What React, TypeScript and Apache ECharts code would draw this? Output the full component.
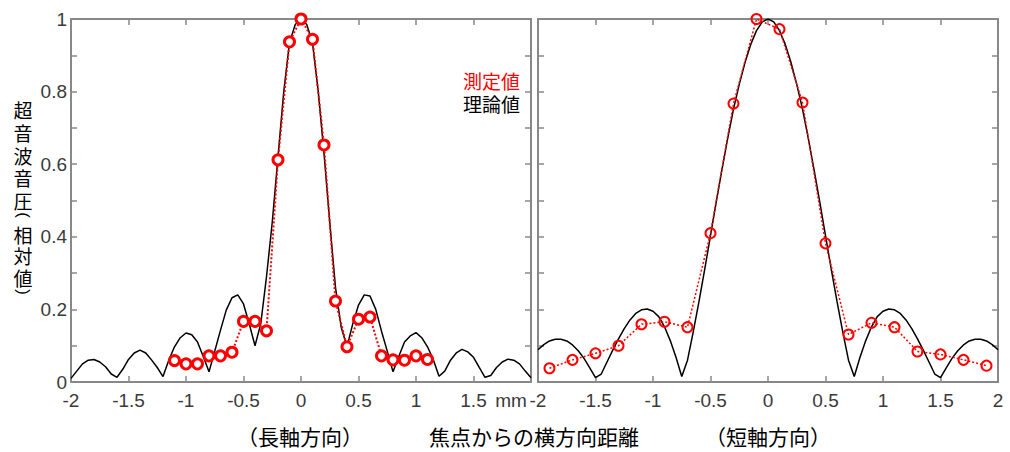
import React, { useEffect, useRef } from "react";
import * as echarts from "echarts";

// sample positions of the theoretical curves (mm)
const theoryX = [
  -2.0, -1.95, -1.9, -1.85, -1.8, -1.75, -1.7, -1.65, -1.6, -1.55, -1.5, -1.45, -1.4, -1.35, -1.3, -1.25, -1.2, -1.15, -1.1, -1.05,
  -1.0, -0.95, -0.9, -0.85, -0.8, -0.75, -0.7, -0.65, -0.6, -0.55, -0.5, -0.45, -0.4, -0.35, -0.3, -0.25, -0.2, -0.15, -0.1, -0.05,
  0.0, 0.05, 0.1, 0.15, 0.2, 0.25, 0.3, 0.35, 0.4, 0.45, 0.5, 0.55, 0.6, 0.65, 0.7, 0.75, 0.8, 0.85, 0.9, 0.95,
  1.0, 1.05, 1.1, 1.15, 1.2, 1.25, 1.3, 1.35, 1.4, 1.45, 1.5, 1.55, 1.6, 1.65, 1.7, 1.75, 1.8, 1.85, 1.9, 1.95, 2.0,
];

// 長軸方向 — theory
const longTheory = [
  0.010, 0.030, 0.050, 0.060, 0.062, 0.055, 0.042, 0.022, 0.013, 0.035, 0.062, 0.080, 0.088, 0.080, 0.061, 0.040, 0.015, 0.060, 0.097, 0.122,
  0.135, 0.130, 0.110, 0.070, 0.028, 0.085, 0.143, 0.198, 0.232, 0.240, 0.215, 0.160, 0.100, 0.160, 0.290, 0.440, 0.620, 0.800, 0.935, 0.985,
  1.000, 0.985, 0.935, 0.800, 0.630, 0.440, 0.260, 0.150, 0.097, 0.160, 0.212, 0.240, 0.237, 0.200, 0.140, 0.085, 0.028, 0.070, 0.110, 0.127,
  0.136, 0.122, 0.097, 0.062, 0.016, 0.030, 0.060, 0.080, 0.090, 0.083, 0.068, 0.040, 0.013, 0.018, 0.040, 0.055, 0.063, 0.060, 0.050, 0.030, 0.012,
];

// 長軸方向 — measured
const longMeasX = [-1.1, -1.0, -0.9, -0.8, -0.7, -0.6, -0.5, -0.4, -0.3, -0.2, -0.1, 0, 0.1, 0.2, 0.3, 0.4, 0.5, 0.6, 0.7, 0.8, 0.9, 1.0, 1.1];
const longMeas = [0.059, 0.050, 0.050, 0.072, 0.072, 0.082, 0.167, 0.167, 0.141, 0.612, 0.937, 1.0, 0.944, 0.653, 0.223, 0.097, 0.173, 0.179, 0.072, 0.061, 0.060, 0.072, 0.062];

// 短軸方向 — theory
const shortTheory = [
  0.089, 0.103, 0.113, 0.118, 0.118, 0.113, 0.102, 0.086, 0.065, 0.039, 0.012, 0.022, 0.055, 0.088, 0.119, 0.147, 0.171, 0.189, 0.199, 0.201,
  0.195, 0.180, 0.152, 0.114, 0.068, 0.015, 0.060, 0.138, 0.222, 0.311, 0.403, 0.496, 0.586, 0.672, 0.752, 0.820, 0.880, 0.930, 0.968, 0.992,
  1.000, 0.992, 0.968, 0.930, 0.880, 0.820, 0.752, 0.672, 0.586, 0.496, 0.403, 0.311, 0.222, 0.138, 0.060, 0.015, 0.068, 0.114, 0.152, 0.180,
  0.195, 0.201, 0.199, 0.189, 0.171, 0.147, 0.119, 0.088, 0.055, 0.022, 0.012, 0.039, 0.065, 0.086, 0.102, 0.113, 0.118, 0.118, 0.113, 0.103, 0.089,
];

// 短軸方向 — measured
const shortMeasX = [-1.9, -1.7, -1.5, -1.3, -1.1, -0.9, -0.7, -0.5, -0.3, -0.1, 0.1, 0.3, 0.5, 0.7, 0.9, 1.1, 1.3, 1.5, 1.7, 1.9];
const shortMeas = [0.038, 0.061, 0.079, 0.100, 0.159, 0.166, 0.151, 0.410, 0.767, 1.0, 0.972, 0.770, 0.382, 0.131, 0.163, 0.151, 0.084, 0.076, 0.061, 0.045];

// vertical y-axis title: 超音波音圧（相対値）
const yTitleParts = ["超音波音圧", "(", "相対値", ")"];
const legendTexts = ["測定値", "理論値"];
const xTitles = ["（長軸方向）", "焦点からの横方向距離", "（短軸方向）"];

const AXIS = "#888888";
const LABEL = "#3a3a3a";
const CJK = "'Noto Sans CJK JP', sans-serif";
const LATIN = "'Liberation Sans', Arial, sans-serif";

const zip = (xs: number[], ys: number[]) => xs.map((x, i) => [x, ys[i]]);
const fmt = (v: number) => String(Math.round(v * 10) / 10);

export default function App() {
  const ref = useRef<HTMLDivElement>(null);
  useEffect(() => {
    if (!ref.current) return;
    const chart = echarts.init(ref.current, undefined, { renderer: "svg" });

    const grids = [
      { left: 71, top: 19, width: 460, height: 363 },
      { left: 538, top: 19, width: 460, height: 363 },
    ];

    const baseX = (gridIndex: number, position: "bottom" | "top", showLabel: boolean, hideLast: boolean) => ({
      type: "value",
      gridIndex,
      position,
      min: -2,
      max: 2,
      interval: 0.5,
      axisLine: { show: true, onZero: false, lineStyle: { color: AXIS, width: 2 } },
      axisTick: { show: true, inside: true, length: 6, lineStyle: { color: AXIS, width: 1.5 } },
      splitLine: { show: false },
      axisLabel: {
        show: showLabel,
        margin: 9,
        color: LABEL,
        fontSize: 19,
        fontFamily: LATIN,
        formatter: (v: number) => (hideLast && v === 2 ? "" : fmt(v)),
      },
    });

    const baseY = (gridIndex: number, position: "left" | "right", showLabel: boolean) => ({
      type: "value",
      gridIndex,
      position,
      min: 0,
      max: 1,
      interval: 0.1,
      axisLine: { show: true, onZero: false, lineStyle: { color: AXIS, width: 2 } },
      axisTick: { show: true, inside: true, length: 6, lineStyle: { color: AXIS, width: 1.5 } },
      splitLine: { show: false },
      axisLabel: {
        show: showLabel,
        margin: 4,
        color: LABEL,
        fontSize: 19,
        fontFamily: LATIN,
        formatter: (v: number) => (Math.round(v * 10) % 2 === 0 ? fmt(v) : ""),
      },
    });

    const vertical = (s: string) => s.split("").join("\n");

    chart.setOption({
      animation: false,
      grid: grids,
      xAxis: [baseX(0, "bottom", true, true), baseX(0, "top", false, false), baseX(1, "bottom", true, false), baseX(1, "top", false, false)],
      yAxis: [baseY(0, "left", true), baseY(0, "right", false), baseY(1, "left", false), baseY(1, "right", false)],
      series: [
        {
          type: "line",
          xAxisIndex: 0,
          yAxisIndex: 0,
          data: zip(theoryX, longTheory),
          showSymbol: false,
          lineStyle: { color: "#000", width: 1.5 },
          z: 2,
        },
        {
          type: "line",
          xAxisIndex: 0,
          yAxisIndex: 0,
          data: zip(longMeasX, longMeas),
          symbol: "circle",
          symbolSize: 10,
          lineStyle: { color: "#ff0000", width: 2, type: [2, 2] },
          itemStyle: { color: "#ffffff", borderColor: "#ff0000", borderWidth: 3 },
          z: 3,
        },
        {
          type: "line",
          xAxisIndex: 2,
          yAxisIndex: 2,
          data: zip(theoryX, shortTheory),
          showSymbol: false,
          lineStyle: { color: "#000", width: 1.5 },
          z: 2,
        },
        {
          type: "line",
          xAxisIndex: 2,
          yAxisIndex: 2,
          data: zip(shortMeasX, shortMeas),
          symbol: "circle",
          symbolSize: 10,
          lineStyle: { color: "#ff0000", width: 1.5, type: [2, 2] },
          itemStyle: { color: "rgba(255,255,255,0)", borderColor: "#ff0000", borderWidth: 2 },
          z: 3,
        },
      ],
      graphic: [
        {
          type: "text",
          x: 23,
          y: 98,
          style: {
            text: vertical(yTitleParts[0]),
            fill: "#000",
            font: `19px ${CJK}`,
            lineHeight: 22.8,
            align: "center",
            verticalAlign: "top",
          },
        },
        {
          type: "text",
          x: 23,
          y: 215,
          rotation: -Math.PI / 2,
          style: { text: yTitleParts[1], fill: "#000", font: `17px ${LATIN}`, align: "center", verticalAlign: "middle" },
        },
        {
          type: "text",
          x: 23,
          y: 223.5,
          style: {
            text: vertical(yTitleParts[2]),
            fill: "#000",
            font: `19px ${CJK}`,
            lineHeight: 21.5,
            align: "center",
            verticalAlign: "top",
          },
        },
        {
          type: "text",
          x: 23,
          y: 292,
          rotation: -Math.PI / 2,
          style: { text: yTitleParts[3], fill: "#000", font: `17px ${LATIN}`, align: "center", verticalAlign: "middle" },
        },
        {
          type: "text",
          x: 511,
          y: 400,
          style: { text: "mm", fill: LABEL, font: `19px ${LATIN}`, align: "center", verticalAlign: "middle" },
        },
        {
          type: "text",
          x: 520,
          y: 80,
          style: { text: legendTexts[0], fill: "#ff0000", font: `19px ${CJK}`, align: "right", verticalAlign: "middle" },
        },
        {
          type: "text",
          x: 520,
          y: 103,
          style: { text: legendTexts[1], fill: "#000", font: `19px ${CJK}`, align: "right", verticalAlign: "middle" },
        },
        {
          type: "text",
          x: 300,
          y: 436,
          style: { text: xTitles[0], fill: "#000", font: `21px ${CJK}`, align: "center", verticalAlign: "middle" },
        },
        {
          type: "text",
          x: 534,
          y: 436,
          style: { text: xTitles[1], fill: "#000", font: `21px ${CJK}`, align: "center", verticalAlign: "middle" },
        },
        {
          type: "text",
          x: 768,
          y: 436,
          style: { text: xTitles[2], fill: "#000", font: `21px ${CJK}`, align: "center", verticalAlign: "middle" },
        },
      ],
    });
    return () => chart.dispose();
  }, []);
  return <div ref={ref} style={{ position: "absolute", left: 0, top: 0, width: 1010, height: 452, background: "#fff" }} />;
}
